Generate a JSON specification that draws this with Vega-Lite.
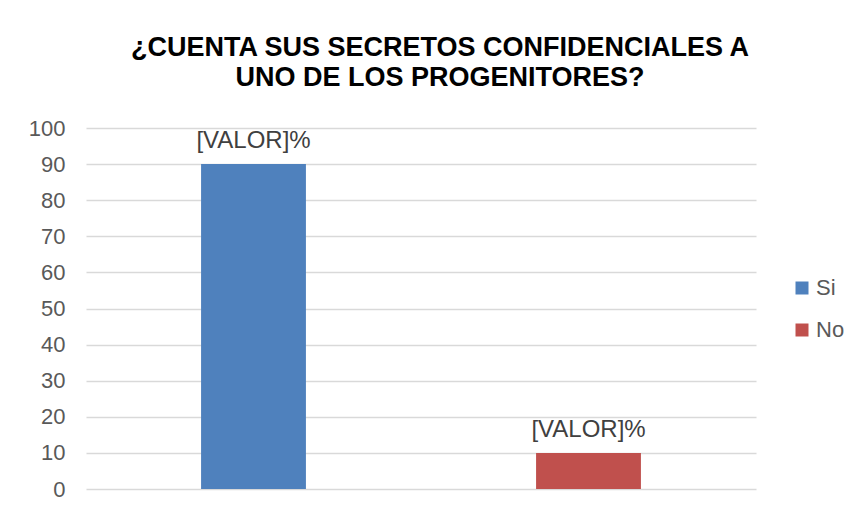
{
  "$schema": "https://vega.github.io/schema/vega-lite/v6.json",
  "width": 670,
  "height": 361,
  "autosize": {"type": "none"},
  "padding": {"left": 86, "top": 128, "right": 103, "bottom": 20},
  "background": "white",
  "config": {"view": {"stroke": null}, "font": "Liberation Sans"},
  "title": {
    "text": ["¿CUENTA SUS SECRETOS CONFIDENCIALES A", "UNO DE LOS PROGENITORES?"],
    "fontSize": 27,
    "fontWeight": "bold",
    "color": "#000000",
    "font": "Liberation Sans",
    "anchor": "middle",
    "frame": "group",
    "dx": 19,
    "lineHeight": 30,
    "offset": 25
  },
  "data": {
    "values": [
      {"respuesta": "Si", "porcentaje": 90},
      {"respuesta": "No", "porcentaje": 10}
    ]
  },
  "encoding": {
    "x": {
      "field": "respuesta",
      "type": "nominal",
      "sort": ["Si", "No"],
      "axis": null,
      "scale": {"paddingInner": 0.687, "paddingOuter": 0.3435}
    },
    "y": {
      "field": "porcentaje",
      "type": "quantitative",
      "scale": {"domain": [0, 100], "nice": false},
      "axis": {
        "values": [0, 10, 20, 30, 40, 50, 60, 70, 80, 90, 100],
        "title": null,
        "domain": false,
        "ticks": false,
        "tickSize": 0,
        "labelFontSize": 22,
        "labelColor": "#595959",
        "labelFont": "Liberation Sans",
        "labelPadding": 21,
        "gridColor": "#d9d9d9",
        "gridWidth": 1.5
      }
    }
  },
  "layer": [
    {
      "mark": {"type": "bar"},
      "encoding": {
        "color": {
          "field": "respuesta",
          "type": "nominal",
          "sort": ["Si", "No"],
          "scale": {"domain": ["Si", "No"], "range": ["#4F81BD", "#C0504D"]},
          "legend": {
            "title": null,
            "orient": "none",
            "legendX": 705,
            "legendY": 149,
            "symbolType": "square",
            "symbolSize": 169,
            "symbolStrokeWidth": 0,
            "labelFontSize": 22,
            "labelFont": "Liberation Sans",
            "labelColor": "#595959",
            "labelOffset": 3,
            "rowPadding": 20,
            "padding": 0
          }
        }
      }
    },
    {
      "mark": {
        "type": "text",
        "dy": -16,
        "baseline": "alphabetic",
        "fontSize": 24,
        "font": "Liberation Sans",
        "color": "#404040"
      },
      "encoding": {"text": {"value": "[VALOR]%"}}
    }
  ]
}
